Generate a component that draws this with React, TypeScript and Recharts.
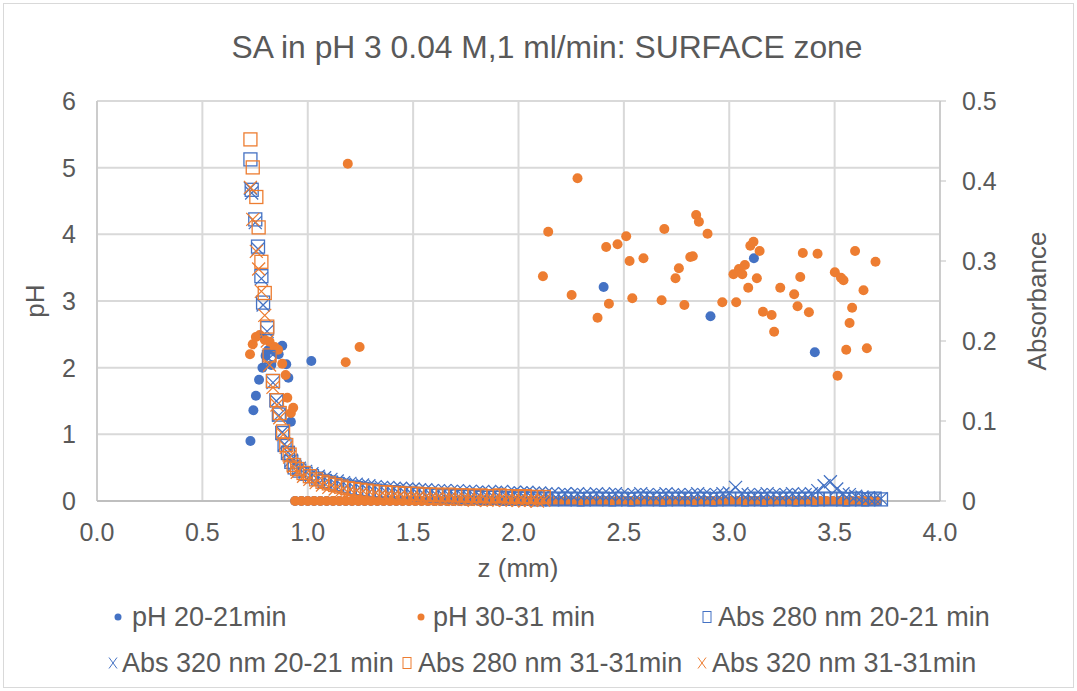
import React from "react";
import { ScatterChart, Scatter, XAxis, YAxis, CartesianGrid } from "recharts";

const BLUE = "#4472C4";
const ORANGE = "#ED7D31";
const TEXT = "#595959";
const FONT = "'Liberation Sans', Arial, sans-serif";

// pH readings (non-zero) 20-21 min
const zPh20 = [0.728, 0.742, 0.754, 0.769, 0.785, 0.800, 0.812, 0.827, 0.846, 0.862, 0.879, 0.898, 0.908, 0.920, 1.017, 2.404, 2.911, 3.117, 3.406];
const ph20 = [0.90, 1.36, 1.58, 1.82, 2.00, 2.18, 2.26, 2.04, 2.24, 2.20, 2.33, 2.05, 1.85, 1.19, 2.10, 3.21, 2.77, 3.64, 2.23];

// pH readings (non-zero) 30-31 min
const zPh30 = [0.726, 0.739, 0.754, 0.772, 0.796, 0.819, 0.843, 0.859, 0.879, 0.895, 0.903, 0.920, 0.931, 1.180, 1.190, 1.246,
  2.116, 2.141, 2.252, 2.280, 2.375, 2.416, 2.429, 2.470, 2.511, 2.527, 2.540, 2.593, 2.679, 2.692, 2.745, 2.761, 2.787,
  2.815, 2.827, 2.843, 2.856, 2.897, 2.967, 3.020, 3.033, 3.046, 3.062, 3.074, 3.090, 3.100, 3.115, 3.131, 3.144, 3.160,
  3.201, 3.213, 3.242, 3.308, 3.324, 3.337, 3.349, 3.378, 3.419, 3.501, 3.514, 3.530, 3.542, 3.555, 3.571, 3.583, 3.597,
  3.637, 3.653, 3.694];
const ph30 = [2.20, 2.35, 2.46, 2.49, 2.42, 2.39, 2.31, 2.27, 2.06, 1.89, 1.55, 1.32, 1.40, 2.08, 5.06, 2.31,
  3.37, 4.04, 3.09, 4.84, 2.75, 3.81, 2.96, 3.85, 3.97, 3.60, 3.04, 3.64, 3.01, 4.08, 3.34, 3.49, 2.94,
  3.66, 3.67, 4.29, 4.19, 4.01, 2.98, 3.40, 2.98, 3.48, 3.40, 3.54, 3.20, 3.83, 3.89, 3.34, 3.75, 2.84,
  2.79, 2.54, 3.20, 3.10, 2.92, 3.36, 3.72, 2.83, 3.71, 3.43, 1.88, 3.35, 3.31, 2.27, 2.67, 2.90, 3.75,
  3.16, 2.29, 3.59];

// positions where the pH probe read 0
const zPhZero = [0.94, 0.97, 1.00, 1.03, 1.06, 1.09, 1.12, 1.15, 1.18, 1.21, 1.24, 1.27, 1.30, 1.33, 1.36, 1.39, 1.42, 1.45, 1.48, 1.51,
  1.54, 1.57, 1.60, 1.63, 1.66, 1.69, 1.72, 1.75, 1.78, 1.81, 1.84, 1.87, 1.90, 1.93, 1.96, 1.99, 2.02, 2.05, 2.08, 2.11,
  2.14, 2.17, 2.20, 2.23, 2.26, 2.29, 2.32, 2.35, 2.38, 2.41, 2.44, 2.47, 2.50, 2.53, 2.56, 2.59, 2.62, 2.65, 2.68, 2.71,
  2.74, 2.77, 2.80, 2.83, 2.86, 2.89, 2.92, 2.95, 2.98, 3.01, 3.04, 3.07, 3.10, 3.13, 3.16, 3.19, 3.22, 3.25, 3.28, 3.31,
  3.34, 3.37, 3.40, 3.43, 3.46, 3.49, 3.52, 3.55, 3.58, 3.61, 3.64, 3.67, 3.70];

// absorbance 20-21 min
const zAbs20 = [0.728, 0.734, 0.751, 0.764, 0.780, 0.788, 0.807, 0.816, 0.835, 0.851, 0.863, 0.879, 0.890, 0.906, 0.922, 0.938,
  0.96, 0.99, 1.02, 1.05, 1.08, 1.11, 1.14, 1.17, 1.20, 1.23, 1.26, 1.29, 1.32, 1.35, 1.38, 1.41, 1.44, 1.47, 1.50, 1.53,
  1.56, 1.59, 1.62, 1.65, 1.68, 1.71, 1.74, 1.77, 1.80, 1.83, 1.86, 1.89, 1.92, 1.95, 1.98, 2.01, 2.04, 2.07, 2.10, 2.13,
  2.16, 2.19, 2.22, 2.25, 2.28, 2.31, 2.34, 2.37, 2.40, 2.43, 2.46, 2.49, 2.52, 2.55, 2.58, 2.61, 2.64, 2.67, 2.70, 2.73,
  2.76, 2.79, 2.82, 2.85, 2.88, 2.91, 2.94, 2.97, 3.00, 3.03, 3.06, 3.09, 3.12, 3.15, 3.18, 3.21, 3.24, 3.27, 3.30, 3.33,
  3.36, 3.39, 3.42, 3.45, 3.48, 3.51, 3.54, 3.57, 3.60, 3.63, 3.66, 3.69, 3.72];
const abs280_20 = [0.427, 0.389, 0.352, 0.318, 0.281, 0.248, 0.216, 0.180, 0.150, 0.126, 0.108, 0.085, 0.070, 0.060, 0.049, 0.042,
  0.038, 0.034, 0.031, 0.028, 0.025, 0.023, 0.021, 0.019, 0.017, 0.016,
  0.015, 0.014, 0.013, 0.012, 0.011, 0.011, 0.010, 0.009, 0.009, 0.008,
  0.008, 0.007, 0.007, 0.006, 0.006, 0.006, 0.005, 0.005, 0.005, 0.004,
  0.004, 0.004, 0.004, 0.003, 0.003, 0.003, 0.003, 0.003, 0.002, 0.003,
  0.002, 0.003, 0.002, 0.003, 0.002, 0.002, 0.003, 0.002, 0.003, 0.002,
  0.002, 0.003, 0.002, 0.002, 0.003, 0.002, 0.003, 0.002, 0.002, 0.003,
  0.002, 0.003, 0.002, 0.002, 0.003, 0.002, 0.002, 0.003, 0.002, 0.003,
  0.002, 0.002, 0.003, 0.002, 0.002, 0.003, 0.002, 0.003, 0.002, 0.002,
  0.003, 0.002, 0.002, 0.003, 0.002, 0.003, 0.002, 0.002, 0.003, 0.002,
  0.002, 0.003, 0.002];
const abs320_20 = [0.391, 0.385, 0.348, 0.315, 0.278, 0.245, 0.212, 0.178, 0.148, 0.125, 0.107, 0.086, 0.071, 0.061, 0.051, 0.045,
  0.041, 0.037, 0.034, 0.031, 0.029, 0.027, 0.025, 0.023, 0.022, 0.021,
  0.020, 0.019, 0.018, 0.017, 0.017, 0.016, 0.016, 0.015, 0.015, 0.014,
  0.014, 0.013, 0.013, 0.013, 0.012, 0.013, 0.012, 0.012, 0.011, 0.012,
  0.011, 0.011, 0.012, 0.010, 0.011, 0.010, 0.011, 0.010, 0.010, 0.009,
  0.009, 0.008, 0.009, 0.008, 0.009, 0.008, 0.008, 0.009, 0.008, 0.008,
  0.009, 0.008, 0.007, 0.008, 0.009, 0.008, 0.007, 0.008, 0.009, 0.008,
  0.008, 0.007, 0.008, 0.009, 0.008, 0.007, 0.008, 0.009, 0.010, 0.017,
  0.009, 0.008, 0.007, 0.008, 0.009, 0.008, 0.007, 0.008, 0.009, 0.008,
  0.008, 0.009, 0.013, 0.019, 0.024, 0.015, 0.009, 0.008, 0.006, 0.005,
  0.004, 0.003, 0.003];

// absorbance 31-31 min
const zAbs31 = [0.728, 0.739, 0.756, 0.767, 0.780, 0.796, 0.808, 0.819, 0.835, 0.854, 0.867, 0.883, 0.898, 0.914, 0.933,
  0.95, 0.98, 1.01, 1.04, 1.07, 1.10, 1.13, 1.16, 1.19, 1.22, 1.25, 1.28, 1.31, 1.34, 1.37, 1.40, 1.43, 1.46, 1.49, 1.52,
  1.55, 1.58, 1.61, 1.64, 1.67, 1.70, 1.73, 1.76, 1.79, 1.82, 1.85, 1.88, 1.91, 1.94, 1.97, 2.00, 2.03, 2.06, 2.09, 2.12];
const abs280_31 = [0.452, 0.417, 0.380, 0.342, 0.299, 0.260, 0.218, 0.182, 0.150, 0.126, 0.110, 0.087, 0.070, 0.058, 0.045,
  0.040, 0.035, 0.031, 0.027, 0.024, 0.022, 0.020, 0.018, 0.016, 0.015,
  0.014, 0.013, 0.012, 0.011, 0.011, 0.010, 0.010, 0.009, 0.009, 0.009,
  0.008, 0.008, 0.008, 0.007, 0.008, 0.007, 0.007, 0.007, 0.006, 0.007,
  0.006, 0.006, 0.007, 0.006, 0.006, 0.005, 0.006, 0.005, 0.005, 0.005];
const abs320_31 = [0.392, 0.352, 0.312, 0.290, 0.262, 0.232, 0.200, 0.170, 0.142, 0.120, 0.104, 0.083, 0.067, 0.055, 0.043,
  0.036, 0.031, 0.027, 0.023, 0.020, 0.017, 0.015, 0.013, 0.011, 0.010,
  0.009, 0.008, 0.007, 0.006, 0.006, 0.005, 0.005, 0.004, 0.004, 0.004,
  0.003, 0.003, 0.003, 0.002, 0.003, 0.002, 0.002, 0.002, 0.001, 0.002,
  0.001, 0.001, 0.002, 0.001, 0.001, 0.001, 0.000, 0.001, 0.000, 0.001];

const xTicks = [0, 0.5, 1, 1.5, 2, 2.5, 3, 3.5, 4];
const phTicks = [0, 1, 2, 3, 4, 5, 6];
const absTicks = [0, 0.1, 0.2, 0.3, 0.4, 0.5];

const zip = (zs: number[], vs: number[]) => zs.map((z, i) => ({ z, v: vs[i] }));

const ph20Data = [...zPhZero.map((z) => ({ z, v: 0 })), ...zip(zPh20, ph20)];
const ph30Data = [...zPhZero.map((z) => ({ z, v: 0 })), ...zip(zPh30, ph30)];

const dot = (color: string) => (p: any) => <circle cx={p.cx} cy={p.cy} r={5} fill={color} />;
const square = (color: string) => (p: any) => (
  <rect x={p.cx - 6.5} y={p.cy - 6.5} width={13} height={13} fill="none" stroke={color} strokeWidth={1.3} />
);
const cross = (color: string) => (p: any) => (
  <path d={`M${p.cx - 6.5},${p.cy - 6.5}L${p.cx + 6.5},${p.cy + 6.5}M${p.cx + 6.5},${p.cy - 6.5}L${p.cx - 6.5},${p.cy + 6.5}`}
    stroke={color} strokeWidth={1.3} fill="none" />
);

const tickStyle = { fill: TEXT, fontSize: 25, fontFamily: FONT };

const legendItems = [
  { label: "pH 20-21min", kind: "dot", color: BLUE, mx: 118, tx: 132, y: 617 },
  { label: "pH 30-31 min", kind: "dot", color: ORANGE, mx: 421, tx: 433, y: 617 },
  { label: "Abs 280 nm 20-21 min", kind: "sq", color: BLUE, mx: 707, tx: 718, y: 617 },
  { label: "Abs 320 nm 20-21 min", kind: "x", color: BLUE, mx: 113, tx: 122, y: 663 },
  { label: "Abs 280 nm 31-31min", kind: "sq", color: ORANGE, mx: 407, tx: 418, y: 663 },
  { label: "Abs 320 nm 31-31min", kind: "x", color: ORANGE, mx: 702, tx: 712, y: 663 },
];

const LegendMarker = ({ kind, color }: { kind: string; color: string }) => (
  <svg width={12} height={14} style={{ display: "block" }}>
    {kind === "dot" && <circle cx={6} cy={7} r={3.5} fill={color} />}
    {kind === "sq" && <rect x={2} y={1.5} width={8} height={11} fill="none" stroke={color} strokeWidth={1} />}
    {kind === "x" && <path d="M2,1.5L10,12.5M10,1.5L2,12.5" stroke={color} strokeWidth={1} fill="none" />}
  </svg>
);

export default function App() {
  return (
    <div style={{ position: "absolute", left: 0, top: 0, width: 1077, height: 691, background: "#fff", fontFamily: FONT }}>
      <div style={{ position: "absolute", left: 3, top: 3, width: 1069, height: 683, border: "1px solid #d9d9d9" }} />
      <div style={{ position: "absolute", left: 147, top: 29, width: 800, textAlign: "center", fontSize: 31.8, lineHeight: "36px", color: TEXT }}>
        SA in pH 3 0.04 M,1 ml/min: SURFACE zone
      </div>
      <ScatterChart width={1077} height={691} margin={{ top: 101, right: 0, bottom: 150, left: 0 }} style={{ position: "absolute", left: 0, top: 0 }}>
        <CartesianGrid yAxisId="ph" stroke="#d9d9d9" strokeWidth={2} />
        <XAxis type="number" dataKey="z" domain={[0, 4]} ticks={xTicks} tickFormatter={(v: number) => v.toFixed(1)}
          tick={tickStyle} tickLine={false} tickSize={6} tickMargin={16} stroke="#bfbfbf" strokeWidth={2} height={40} />
        <YAxis yAxisId="ph" type="number" dataKey="v" domain={[0, 6]} ticks={phTicks} tick={tickStyle}
          tickLine={false} tickSize={6} tickMargin={15} stroke="#bfbfbf" width={97} />
        <YAxis yAxisId="abs" orientation="right" type="number" dataKey="v" domain={[0, 0.5]} ticks={absTicks}
          tickFormatter={(v: number) => (v === 0 ? "0" : v.toFixed(1))} tick={tickStyle}
          tickSize={6} tickMargin={16} stroke="#bfbfbf" width={137} />
        <Scatter yAxisId="ph" data={ph20Data} shape={dot(BLUE)} isAnimationActive={false} />
        <Scatter yAxisId="ph" data={ph30Data} shape={dot(ORANGE)} isAnimationActive={false} />
        <Scatter yAxisId="abs" data={zip(zAbs20, abs280_20)} shape={square(BLUE)} isAnimationActive={false} />
        <Scatter yAxisId="abs" data={zip(zAbs20, abs320_20)} shape={cross(BLUE)} isAnimationActive={false} />
        <Scatter yAxisId="abs" data={zip(zAbs31, abs280_31)} shape={square(ORANGE)} isAnimationActive={false} />
        <Scatter yAxisId="abs" data={zip(zAbs31, abs320_31)} shape={cross(ORANGE)} isAnimationActive={false} />
      </ScatterChart>
      <div style={{ position: "absolute", left: 418, top: 553, width: 200, textAlign: "center", fontSize: 26, lineHeight: "30px", color: TEXT }}>
        z (mm)
      </div>
      <div style={{ position: "absolute", left: 35 - 50, top: 301 - 15, width: 100, textAlign: "center", fontSize: 26, lineHeight: "30px", color: TEXT, transform: "rotate(-90deg)" }}>
        pH
      </div>
      <div style={{ position: "absolute", left: 1037 - 100, top: 301 - 15, width: 200, textAlign: "center", fontSize: 26, lineHeight: "30px", color: TEXT, transform: "rotate(-90deg)" }}>
        Absorbance
      </div>
      {legendItems.map((it) => (
        <React.Fragment key={it.label}>
          <div style={{ position: "absolute", left: it.mx - 6, top: it.y - 7 }}>
            <LegendMarker kind={it.kind} color={it.color} />
          </div>
          <div style={{ position: "absolute", left: it.tx, top: it.y - 15, fontSize: 27, lineHeight: "30px", color: TEXT, whiteSpace: "nowrap" }}>
            {it.label}
          </div>
        </React.Fragment>
      ))}
    </div>
  );
}
